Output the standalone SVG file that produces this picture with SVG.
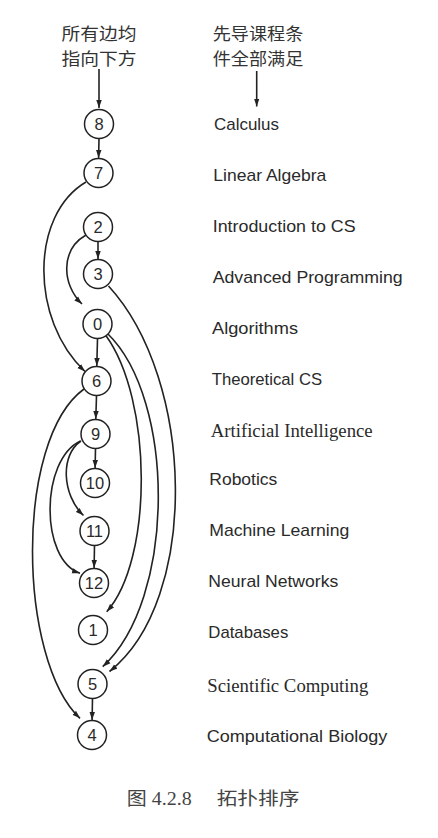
<svg xmlns="http://www.w3.org/2000/svg" width="438" height="838" viewBox="0 0 438 838">
<defs>
<style>
.bg{fill:#ffffff}
.node circle{fill:#ffffff;stroke:#222;stroke-width:1.5}
.node text{font-family:"Liberation Sans",Arial,sans-serif;font-size:16.5px;fill:#2a2a2a;text-anchor:middle}
.edges path{fill:none;stroke:#222;stroke-width:1.6;marker-end:url(#ah)}
.lbl{font-family:"Liberation Sans",Arial,sans-serif;font-size:17px;fill:#2a2a2a}
.lbls{font-family:"Liberation Serif","Times New Roman",serif;font-size:18.5px;fill:#2a2a2a}
.cn{font-family:"Noto Sans CJK SC","Noto Sans CJK JP",sans-serif;font-size:16.5px;fill:#333}
.cap{font-family:"Liberation Serif","Noto Sans CJK SC",serif;font-size:18px;fill:#444}
</style>
<marker id="ah" viewBox="0 0 10 8" refX="10" refY="4" markerWidth="8" markerHeight="6.4" markerUnits="userSpaceOnUse" orient="auto">
<path d="M0,0.6 L10,4 L0,7.4 z" fill="#222"/>
</marker>
</defs>
<rect class="bg" x="0" y="0" width="438" height="838"/>

<g id="header">
<text class="cn" x="99" y="40.2" text-anchor="middle" textLength="75" lengthAdjust="spacingAndGlyphs">所有边均</text>
<text class="cn" x="99" y="64.6" text-anchor="middle" textLength="75" lengthAdjust="spacingAndGlyphs">指向下方</text>
<text class="cn" x="212.7" y="40.2" textLength="90.6" lengthAdjust="spacingAndGlyphs">先导课程条</text>
<text class="cn" x="212.7" y="64.6" textLength="90.6" lengthAdjust="spacingAndGlyphs">件全部满足</text>
</g>

<g id="connectors" class="edges">
<path d="M99,69 L99,108"/>
<path d="M256.7,71 L256.7,106.5"/>
<path d="M99,138.5 L98.6,158"/>
<path d="M98,241.5 L98,259"/>
<path d="M97.5,338.5 L96.8,366"/>
<path d="M96.5,395.5 L95.8,419"/>
<path d="M95.5,448.5 L95.1,468"/>
<path d="M94.5,545.5 L94.1,568"/>
<path d="M92.5,698.5 L92.1,720"/>
<path d="M86,182 C30,215 30,320 85,371.5"/>
<path d="M86,235 C60,250 62,285 82,304"/>
<path d="M108.5,286 C195,380 200,600 109.5,671.5"/>
<path d="M105.5,335 C153,400 153,560 106.7,611.7"/>
<path d="M107.5,333.5 C176,400 176,600 102.7,666.7"/>
<path d="M84,389 C14,440 18,660 80,718.3"/>
<path d="M81,441 C60,455 62,495 83.5,515.5"/>
<path d="M80.5,441 C40,460 40,560 80,573.3"/>
</g>

<g id="n8" class="node"><circle cx="99" cy="124" r="14.5"/><text x="99" y="130">8</text></g>
<g id="n7" class="node"><circle cx="98.5" cy="173" r="14.5"/><text x="98.5" y="179">7</text></g>
<g id="n2" class="node"><circle cx="98" cy="227" r="14.5"/><text x="98" y="233">2</text></g>
<g id="n3" class="node"><circle cx="98" cy="274" r="14.5"/><text x="98" y="280">3</text></g>
<g id="n0" class="node"><circle cx="97.5" cy="324" r="14.5"/><text x="97.5" y="330">0</text></g>
<g id="n6" class="node"><circle cx="96.5" cy="381" r="14.5"/><text x="96.5" y="387">6</text></g>
<g id="n9" class="node"><circle cx="95.5" cy="434" r="14.5"/><text x="95.5" y="440">9</text></g>
<g id="n10" class="node"><circle cx="95" cy="483" r="14.5"/><text x="95" y="489">10</text></g>
<g id="n11" class="node"><circle cx="94.5" cy="531" r="14.5"/><text x="94.5" y="537">11</text></g>
<g id="n12" class="node"><circle cx="94" cy="583" r="14.5"/><text x="94" y="589">12</text></g>
<g id="n1" class="node"><circle cx="93" cy="630" r="14.5"/><text x="93" y="636">1</text></g>
<g id="n5" class="node"><circle cx="92.5" cy="684" r="14.5"/><text x="92.5" y="690">5</text></g>
<g id="n4" class="node"><circle cx="92" cy="735" r="14.5"/><text x="92" y="741">4</text></g>

<g id="labels">
<text class="lbl" x="214" y="130" textLength="65" lengthAdjust="spacingAndGlyphs">Calculus</text>
<text class="lbl" x="213.3" y="181" textLength="113" lengthAdjust="spacingAndGlyphs">Linear Algebra</text>
<text class="lbl" x="212.7" y="232" textLength="143" lengthAdjust="spacingAndGlyphs">Introduction to CS</text>
<text class="lbl" x="212.7" y="283" textLength="190" lengthAdjust="spacingAndGlyphs">Advanced Programming</text>
<text class="lbl" x="212" y="333.5" textLength="86" lengthAdjust="spacingAndGlyphs">Algorithms</text>
<text class="lbl" x="211.7" y="384.5" textLength="110.5" lengthAdjust="spacingAndGlyphs">Theoretical CS</text>
<text class="lbls" x="210.7" y="437" textLength="162" lengthAdjust="spacingAndGlyphs">Artificial Intelligence</text>
<text class="lbl" x="209.3" y="485" textLength="68" lengthAdjust="spacingAndGlyphs">Robotics</text>
<text class="lbl" x="209.3" y="536" textLength="140" lengthAdjust="spacingAndGlyphs">Machine Learning</text>
<text class="lbl" x="208.3" y="587" textLength="130" lengthAdjust="spacingAndGlyphs">Neural Networks</text>
<text class="lbl" x="208.3" y="638" textLength="80" lengthAdjust="spacingAndGlyphs">Databases</text>
<text class="lbls" x="207.3" y="691.5" textLength="161" lengthAdjust="spacingAndGlyphs">Scientific Computing</text>
<text class="lbl" x="206.7" y="741.5" textLength="180.7" lengthAdjust="spacingAndGlyphs">Computational Biology</text>
</g>

<g id="caption">
<text class="cap" x="126.7" y="805" textLength="65" lengthAdjust="spacingAndGlyphs">图 4.2.8</text>
<text class="cap" x="216.7" y="805" textLength="82.6" lengthAdjust="spacingAndGlyphs">拓扑排序</text>
</g>
</svg>
